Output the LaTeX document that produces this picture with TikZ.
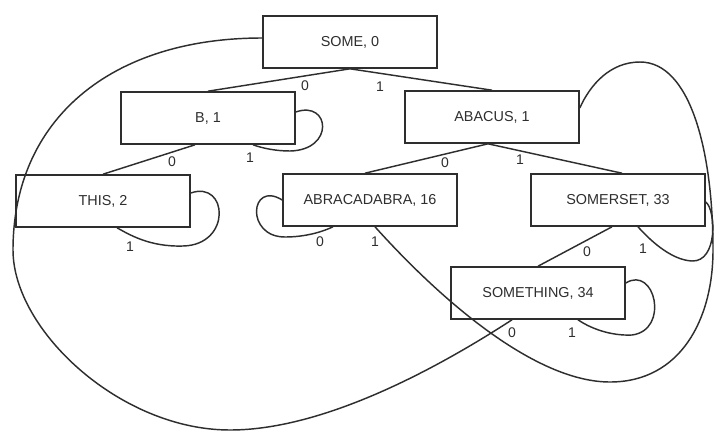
\documentclass[tikz,border=0pt]{standalone}
\usepackage{fontspec}
\setmainfont{Liberation Sans}
\begin{document}
\begin{tikzpicture}[x=1pt,y=-1pt,
  box/.style={draw=black!82, line width=1.6pt, minimum width=174pt, minimum height=52pt, inner sep=0pt, font=\fontsize{14.4}{16}\selectfont, text=black!82},
  link/.style={draw=black!82, line width=1.45pt},
  lbl/.style={font=\fontsize{14}{16}\selectfont, text=black!82, inner sep=0pt}]
\useasboundingbox[fill=white] (0,0) rectangle (720,437);

% nodes
\node[box] (some) at (350,42) {SOME, 0};
\node[box] (b) at (208,118) {B, 1};
\node[box] (abacus) at (492,117) {ABACUS, 1};
\node[box] (this) at (103,201) {THIS, 2};
\node[box] (abra) at (370,200) {ABRACADABRA, 16};
\node[box] (somerset) at (618,200) {SOMERSET, 33};
\node[box] (something) at (538,293) {SOMETHING, 34};

% tree edges
\draw[link] (some.south) -- (b.north);
\draw[link] (some.south) -- (abacus.north);
\draw[link] ([xshift=-13pt]b.south) -- (this.north);
\draw[link] ([xshift=-4pt]abacus.south) -- ([xshift=-5pt]abra.north);
\draw[link] ([xshift=-4pt]abacus.south) -- ([xshift=4pt]somerset.north);
\draw[link] ([xshift=-6pt]somerset.south) -- (something.north);

% self loops
\draw[link] ([yshift=6pt]b.east) .. controls (330,100) and (335,150) .. (290,151)
  .. controls (275,151) and (262,148) .. ([xshift=45pt]b.south);
\draw[link] ([yshift=8pt]this.east) .. controls (228,180) and (232,245) .. (183,246)
  .. controls (150,247) and (130,235) .. ([xshift=14pt]this.south);
\draw[link] (abra.west) .. controls (250,180) and (245,237) .. (285,237)
  .. controls (305,237) and (322,232) .. ([xshift=-37pt]abra.south);
\draw[link] ([yshift=-2pt]somerset.east) .. controls (716,210) and (718,262) .. (692,261)
  .. controls (670,260) and (648,238) .. ([xshift=20pt]somerset.south);
\draw[link] ([yshift=10pt]something.east) .. controls (655,265) and (670,330) .. (632,335)
  .. controls (610,336) and (590,328) .. ([xshift=40pt]something.south);

% back links
\draw[link] ([xshift=-26pt]something.south) .. controls (450,360) and (330,430) .. (230,430)
  .. controls (120,430) and (13,330) .. (13,250)
  .. controls (13,120) and (110,38) .. ([yshift=4pt]some.west);
\draw[link] ([xshift=5pt]abra.south) .. controls (450,310) and (540,382) .. (610,382)
  .. controls (680,382) and (713,320) .. (713,250)
  .. controls (713,150) and (690,62) .. (640,62)
  .. controls (610,62) and (590,85) .. ([yshift=9pt]abacus.east);

% labels
\node[lbl] (l1) at (305,86) {0};
\node[lbl] (l2) at (380,87) {1};
\node[lbl] (l3) at (172,162) {0};
\node[lbl] (l4) at (250,158) {1};
\node[lbl] (l5) at (445,163) {0};
\node[lbl] (l6) at (520,160) {1};
\node[lbl] (l7) at (130,247) {1};
\node[lbl] (l8) at (320,242) {0};
\node[lbl] (l9) at (375,242) {1};
\node[lbl] (l10) at (587,252) {0};
\node[lbl] (l11) at (643,249) {1};
\node[lbl] (l12) at (512,333) {0};
\node[lbl] (l13) at (572,333) {1};
\end{tikzpicture}
\end{document}
